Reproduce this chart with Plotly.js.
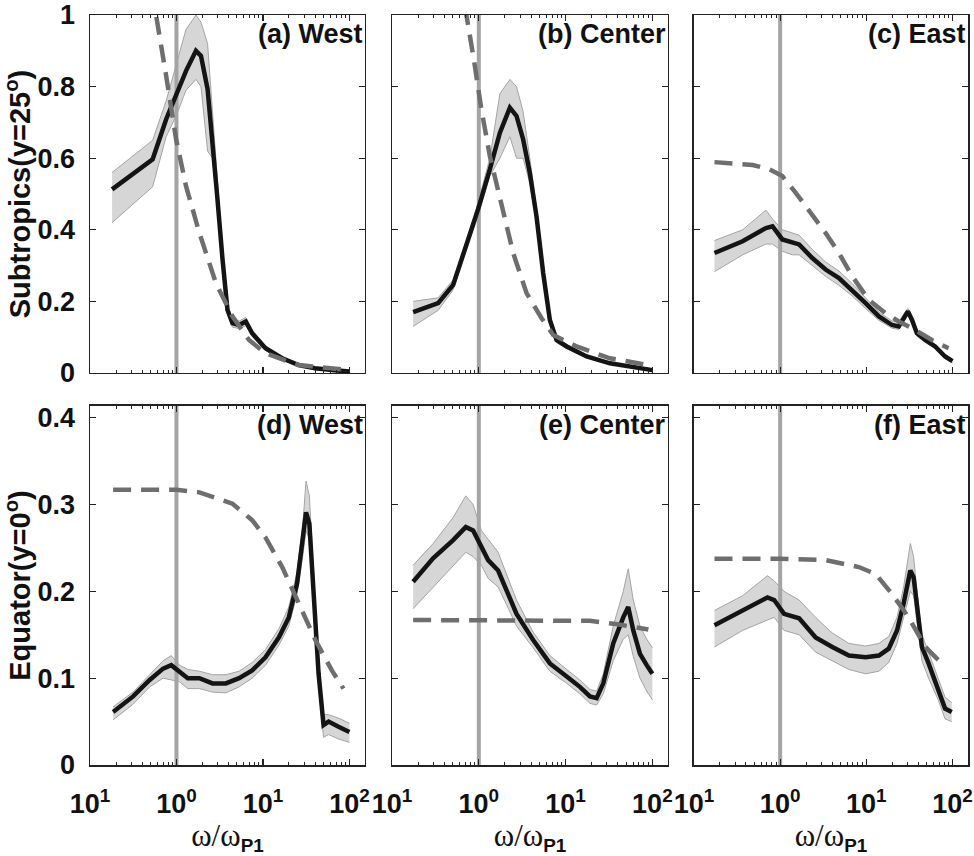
<!DOCTYPE html>
<html>
<head>
<meta charset="utf-8">
<script src="https://cdn.plot.ly/plotly-3.0.1.min.js"></script>
<style>html,body{margin:0;padding:0;background:#fff;}#chart{width:974px;height:856px;}</style>
</head>
<body>
<div id="chart"></div>
<script>
// ---------- tick labels ----------
const xTickVals = [0.1, 1, 10, 100];
const xTickText = ["10<sup>1</sup>", "10<sup>0</sup>", "10<sup>1</sup>", "10<sup>2</sup>"];
const xMinorVals = [0.2,0.3,0.4,0.5,0.6,0.7,0.8,0.9,2,3,4,5,6,7,8,9,20,30,40,50,60,70,80,90];
const yTopTicks = [0, 0.2, 0.4, 0.6, 0.8, 1];
const yTopText = ["0", "0.2", "0.4", "0.6", "0.8", "1"];
const yBotTicks = [0, 0.1, 0.2, 0.3, 0.4];
const yBotText = ["0", "0.1", "0.2", "0.3", "0.4"];
const panelLabels = ["(a) West", "(b) Center", "(c) East", "(d) West", "(e) Center", "(f) East"];
const rowTitles = ["Subtropics(y=25<sup>o</sup>)", "Equator(y=0<sup>o</sup>)"];
const refFreq = 1;

// ---------- (a) Subtropics West ----------
const freqA  = [0.18,0.53,0.76,1.0,1.29,1.68,1.92,2.29,2.61,2.98,3.41,3.89,4.44,5.3,6.33,7.5,10.7,16.7,25.9,40,62.6,100];
const blackA = [0.513,0.597,0.709,0.783,0.844,0.9,0.886,0.793,0.653,0.485,0.317,0.176,0.139,0.134,0.144,0.111,0.069,0.041,0.022,0.013,0.008,0.004];
const upperA = [0.56,0.65,0.76,0.86,0.96,1.0,0.98,0.92,0.72,0.52,0.34,0.19,0.15,0.145,0.155,0.12,0.076,0.046,0.025,0.015,0.01,0.006];
const lowerA = [0.42,0.52,0.66,0.72,0.79,0.82,0.8,0.62,0.6,0.46,0.3,0.165,0.128,0.124,0.132,0.102,0.063,0.037,0.019,0.011,0.006,0.002];
const dashFreqA = [0.5,0.58,0.76,0.99,1.29,1.84,2.86,4.44,6.9,10.7,25.9,100];
const dashA     = [1.15,1.0,0.83,0.653,0.522,0.391,0.251,0.158,0.092,0.055,0.022,0.008];

// ---------- (b) Subtropics Center ----------
const freqB  = [0.175,0.34,0.506,0.72,0.98,1.34,1.75,2.28,2.72,3.24,3.87,4.62,5.52,6.59,7.87,10.3,17.5,32.4,60,100];
const blackB = [0.17,0.195,0.246,0.354,0.457,0.569,0.671,0.741,0.718,0.653,0.559,0.438,0.279,0.148,0.092,0.074,0.046,0.027,0.018,0.008];
const upperB = [0.2,0.21,0.26,0.37,0.475,0.6,0.78,0.82,0.8,0.73,0.6,0.46,0.3,0.16,0.1,0.08,0.05,0.03,0.021,0.011];
const lowerB = [0.13,0.175,0.232,0.34,0.44,0.55,0.6,0.66,0.6,0.6,0.53,0.42,0.26,0.136,0.085,0.068,0.042,0.024,0.015,0.005];
const dashFreqB = [0.65,0.72,0.9,1.07,1.34,1.75,2.49,3.55,5.29,7.2,13.4,32.4,100];
const dashB     = [1.1,1.0,0.858,0.737,0.606,0.485,0.335,0.223,0.153,0.106,0.074,0.041,0.02];

// ---------- (c) Subtropics East ----------
const freqC  = [0.173,0.367,0.684,0.815,1.06,1.39,1.66,2.36,3.37,4.81,6.86,9.8,14,19.9,23.8,27.2,30.4,33.9,38.6,48.4,63,82,100];
const blackC = [0.335,0.368,0.405,0.41,0.373,0.363,0.359,0.321,0.289,0.265,0.232,0.195,0.158,0.134,0.13,0.153,0.172,0.148,0.111,0.092,0.074,0.046,0.033];
const upperC = [0.37,0.4,0.455,0.43,0.4,0.39,0.385,0.345,0.31,0.285,0.25,0.21,0.17,0.145,0.142,0.165,0.18,0.158,0.12,0.1,0.08,0.052,0.038];
const lowerC = [0.283,0.33,0.36,0.36,0.34,0.33,0.33,0.3,0.27,0.245,0.215,0.18,0.147,0.125,0.122,0.143,0.162,0.138,0.103,0.085,0.068,0.04,0.028];
const dashFreqC = [0.173,0.48,0.746,1.06,1.52,1.98,3.37,4.81,6.86,10.7,16.7,23.8,37,57.7,90];
const dashC     = [0.589,0.581,0.569,0.55,0.503,0.466,0.391,0.335,0.27,0.204,0.167,0.144,0.12,0.092,0.069];

// ---------- (d) Equator West ----------
const freqD  = [0.185,0.315,0.49,0.70,0.87,1.08,1.35,1.84,2.61,3.72,5.3,7.5,10.7,15.3,19.9,24.8,28.8,31.5,34.4,38.5,44,50.2,57.4,74.8,100];
const blackD = [0.061,0.079,0.098,0.111,0.115,0.107,0.1,0.1,0.094,0.094,0.1,0.109,0.124,0.147,0.17,0.209,0.255,0.291,0.278,0.201,0.105,0.046,0.05,0.044,0.038];
const upperD = [0.067,0.084,0.104,0.12,0.126,0.115,0.11,0.108,0.104,0.104,0.108,0.118,0.133,0.157,0.182,0.222,0.275,0.327,0.31,0.22,0.12,0.058,0.058,0.054,0.048];
const lowerD = [0.052,0.07,0.09,0.1,0.098,0.096,0.088,0.088,0.084,0.083,0.09,0.1,0.115,0.138,0.16,0.197,0.24,0.27,0.26,0.185,0.09,0.032,0.035,0.03,0.026];
const dashFreqD = [0.185,1.0,1.84,4.44,7.5,10.7,16.7,25.9,40.4,62.6,85.3];
const dashD     = [0.317,0.317,0.314,0.301,0.282,0.262,0.228,0.186,0.144,0.109,0.088];

// ---------- (e) Equator Center ----------
const freqE  = [0.175,0.297,0.506,0.708,0.86,1.07,1.28,1.67,2.08,2.72,4.23,6.59,10.3,14.6,19.1,22.8,27.2,35.4,46.2,52.7,60.3,72,86,100];
const blackE = [0.211,0.238,0.259,0.274,0.27,0.251,0.236,0.224,0.201,0.174,0.144,0.117,0.102,0.09,0.079,0.077,0.094,0.14,0.17,0.182,0.155,0.128,0.115,0.105];
const upperE = [0.23,0.255,0.285,0.31,0.3,0.27,0.26,0.245,0.22,0.19,0.153,0.126,0.11,0.098,0.087,0.085,0.105,0.16,0.2,0.226,0.19,0.16,0.145,0.135];
const lowerE = [0.18,0.205,0.23,0.245,0.24,0.23,0.215,0.205,0.185,0.16,0.135,0.108,0.094,0.082,0.071,0.069,0.082,0.12,0.145,0.15,0.125,0.1,0.085,0.075];
const dashFreqE = [0.175,1.0,5,19,40,60,90];
const dashE     = [0.167,0.167,0.167,0.166,0.162,0.159,0.156];

// ---------- (f) Equator East ----------
const freqF  = [0.173,0.367,0.713,0.853,1.11,1.66,2.58,4.03,6.28,9.8,14,18.2,22.7,27.1,32.4,35.4,38.7,44.2,52.8,68.9,82,98];
const blackF = [0.161,0.178,0.193,0.19,0.174,0.169,0.147,0.136,0.126,0.124,0.126,0.134,0.155,0.186,0.224,0.216,0.182,0.136,0.117,0.086,0.065,0.061];
const upperF = [0.178,0.195,0.218,0.212,0.2,0.19,0.17,0.152,0.14,0.137,0.14,0.148,0.17,0.205,0.255,0.24,0.2,0.15,0.13,0.098,0.078,0.072];
const lowerF = [0.136,0.155,0.167,0.17,0.155,0.15,0.13,0.12,0.11,0.105,0.108,0.118,0.14,0.17,0.2,0.195,0.165,0.12,0.1,0.074,0.053,0.05];
const dashFreqF = [0.173,1.0,3.37,8.2,12.8,19.9,31,48.4,82];
const dashF     = [0.2375,0.2375,0.236,0.228,0.22,0.197,0.17,0.136,0.113];

const panels = [
  {f:freqA,b:blackA,u:upperA,l:lowerA,df:dashFreqA,d:dashA,ymax:1},
  {f:freqB,b:blackB,u:upperB,l:lowerB,df:dashFreqB,d:dashB,ymax:1},
  {f:freqC,b:blackC,u:upperC,l:lowerC,df:dashFreqC,d:dashC,ymax:1},
  {f:freqD,b:blackD,u:upperD,l:lowerD,df:dashFreqD,d:dashD,ymax:0.4135},
  {f:freqE,b:blackE,u:upperE,l:lowerE,df:dashFreqE,d:dashE,ymax:0.4135},
  {f:freqF,b:blackF,u:upperF,l:lowerF,df:dashFreqF,d:dashF,ymax:0.4135}
];

const FONT = "Liberation Sans, Arial, sans-serif";
const GREY = "#a4a4a4";
const DASH = "#6e6e6e";
const BLACK = "#141414";

const colDom = [[0, 0.3132], [0.344, 0.6583], [0.6879, 1]];
const rowDom = [[0.5227, 1], [0, 0.4787]];

const traces = [];
const layout = {
  width: 974, height: 856,
  margin: {l: 90, r: 6, t: 15, b: 91},
  paper_bgcolor: "#fff", plot_bgcolor: "#fff",
  showlegend: false,
  font: {family: FONT, color: "#111"},
  annotations: []
};

panels.forEach((p, i) => {
  const n = i + 1;
  const xa = n === 1 ? "x" : "x" + n;
  const ya = n === 1 ? "y" : "y" + n;
  const row = i < 3 ? 0 : 1;
  const col = i % 3;
  // vertical reference line at omega/omega_P1 = 1
  traces.push({x: [refFreq, refFreq], y: [0, p.ymax], xaxis: xa, yaxis: ya, mode: "lines",
    line: {color: GREY, width: 4}, hoverinfo: "skip"});
  // ensemble envelope
  traces.push({x: p.f, y: p.l, xaxis: xa, yaxis: ya, mode: "lines",
    line: {color: GREY, width: 1}, hoverinfo: "skip"});
  traces.push({x: p.f, y: p.u, xaxis: xa, yaxis: ya, mode: "lines", fill: "tonexty",
    fillcolor: "rgba(165,165,165,0.45)", line: {color: GREY, width: 1}, hoverinfo: "skip"});
  // ensemble mean
  traces.push({x: p.f, y: p.b, xaxis: xa, yaxis: ya, mode: "lines",
    line: {color: BLACK, width: 4.5}, hoverinfo: "skip"});
  // theory (dashed)
  traces.push({x: p.df, y: p.d, xaxis: xa, yaxis: ya, mode: "lines",
    line: {color: DASH, width: 4.5, dash: "18px,10px"}, hoverinfo: "skip"});

  const axX = {
    type: "log", domain: colDom[col], range: [-1, 2.18], anchor: ya,
    showline: true, linecolor: "#222", linewidth: 1.5, mirror: "allticks",
    ticks: "inside", ticklen: 6, tickwidth: 1.2, tickcolor: "#222",
    tickvals: xTickVals, ticktext: xTickText, showticklabels: row === 1,
    tickfont: {family: FONT, size: 27, weight: "bold", color: "#111"},
    ticklabelstandoff: 14,
    minor: {tickvals: xMinorVals, ticks: "inside", ticklen: 3, tickwidth: 1, tickcolor: "#222", showgrid: false},
    showgrid: false, zeroline: false, fixedrange: true
  };
  if (row === 1) {
    axX.title = {text: "<span style='font-family:Liberation Serif;font-weight:normal;font-size:31px'>ω/ω</span><sub>P1</sub>",
      font: {family: FONT, size: 27, weight: "bold", color: "#111"}, standoff: 26};
  }
  const axY = {
    domain: rowDom[row], range: [0, p.ymax], anchor: xa,
    showline: true, linecolor: "#222", linewidth: 1.5, mirror: "allticks",
    ticks: "inside", ticklen: 6, tickwidth: 1.2, tickcolor: "#222",
    tickvals: row === 0 ? yTopTicks : yBotTicks,
    ticktext: row === 0 ? yTopText : yBotText,
    showticklabels: col === 0,
    tickfont: {family: FONT, size: 27, weight: "bold", color: "#111"},
    ticklabelstandoff: 8,
    showgrid: false, zeroline: false, fixedrange: true
  };
  if (col === 0) {
    axY.title = {text: rowTitles[row], font: {family: FONT, size: 29, weight: "bold", color: "#111"}, standoff: 0};
  }
  layout["xaxis" + (n === 1 ? "" : n)] = axX;
  layout["yaxis" + (n === 1 ? "" : n)] = axY;

  layout.annotations.push({
    text: panelLabels[i], xref: xa + " domain", yref: ya + " domain",
    x: 1, y: 1, xanchor: "right", yanchor: "top", showarrow: false,
    xshift: 0, yshift: -2,
    font: {family: FONT, size: 27, weight: "bold", color: "#111"}
  });
});

Plotly.newPlot("chart", traces, layout, {displayModeBar: false, staticPlot: true});
</script>
</body>
</html>
